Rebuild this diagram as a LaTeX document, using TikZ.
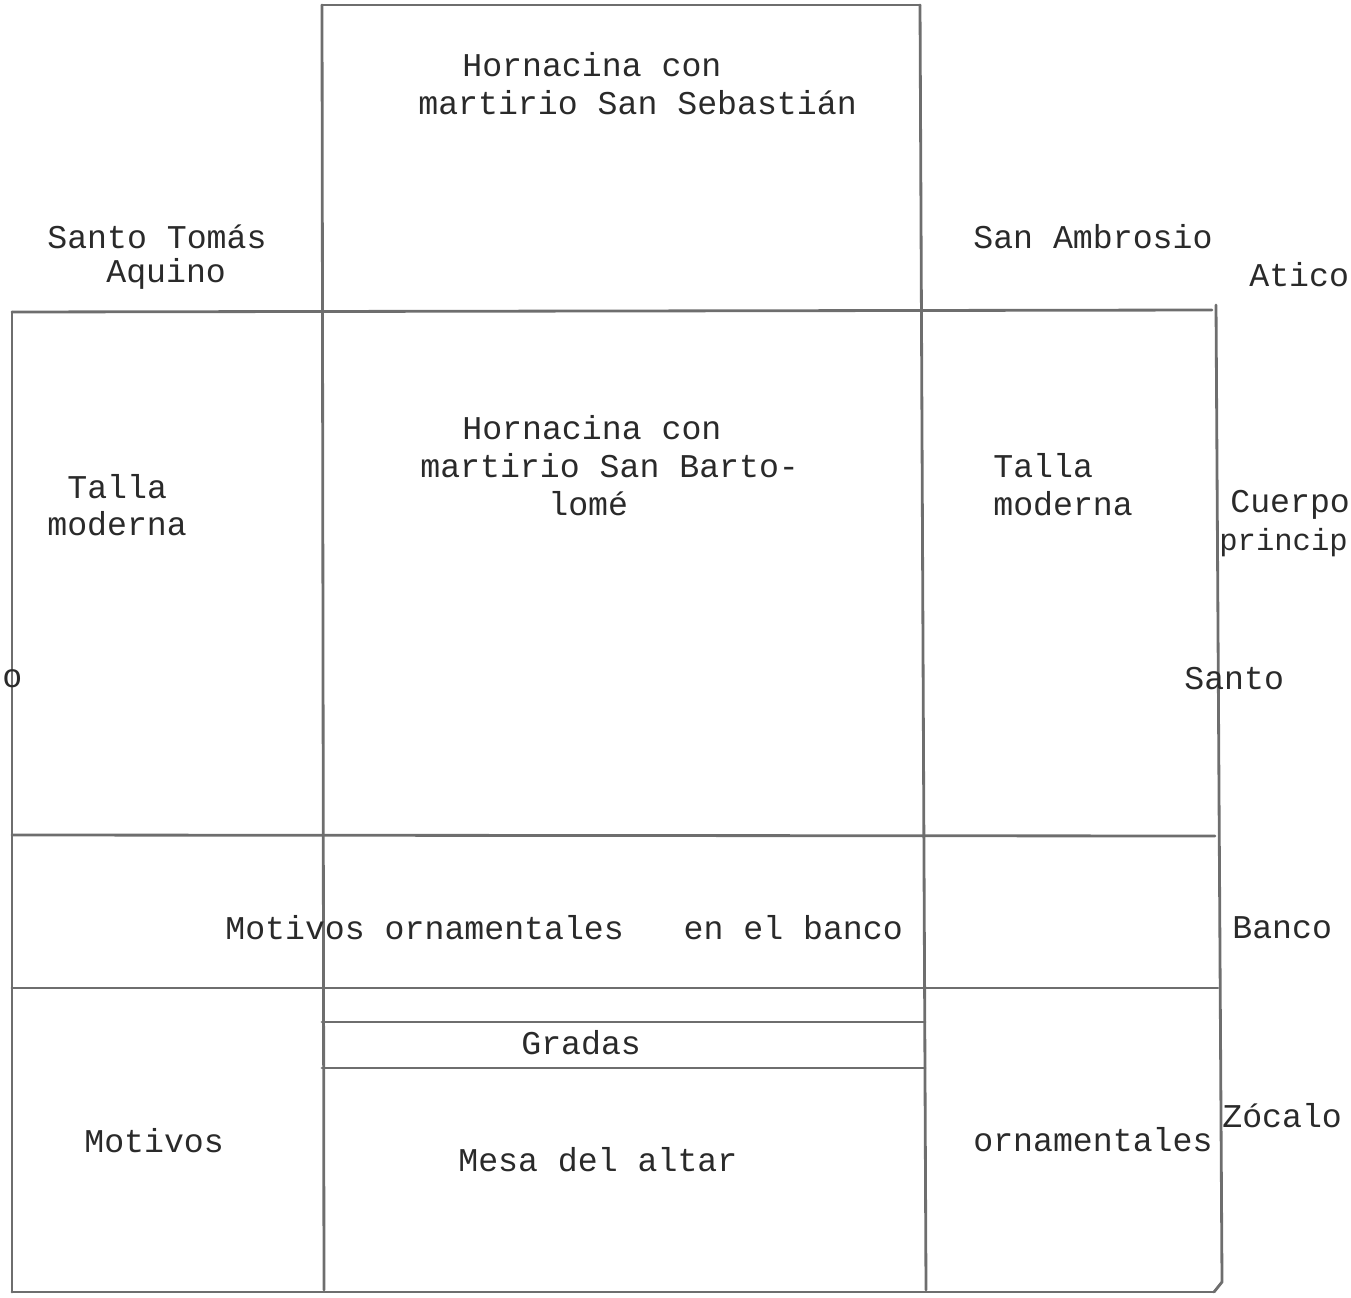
\documentclass[tikz,border=0pt]{standalone}
\usepackage{fontspec}
\setmonofont{Liberation Mono}
\usepackage{tikz}
\usepackage{xcolor}
\usetikzlibrary{positioning}
\definecolor{ink}{HTML}{2A2A2A}
\definecolor{rule}{HTML}{6E6E6E}
\tikzset{
  wall/.style={draw=rule, line width=1.6pt, line cap=round, line join=round},
  typed/.style={anchor=west, inner sep=0pt, text=ink,
                font=\ttfamily\fontsize{18.9}{24}\selectfont}
}

\begin{document}
\begin{tikzpicture}[x=0.02cm,y=-0.02cm]
    \useasboundingbox (0,0) rectangle (1351,1297);

    % frame of the retablo
    \draw[wall] (322,5) -- (920,5);
    \draw[wall] (322,5) -- (324,1290);
    \draw[wall] (920,5) -- (926,1290);
    \draw[wall] (12,312) -- (1212,310);
    \draw[wall] (12,312) -- (12,1292);
    \draw[wall] (1216,305) -- (1222,1282) -- (1214,1292);
    \draw[wall] (12,835) -- (1215,836);
    \draw[wall] (12,988) -- (1218,988);
    \draw[wall] (322,1022) -- (925,1022);
    \draw[wall] (322,1068) -- (925,1068);
    \draw[wall] (12,1292) -- (1214,1292);

    % atico
    \node[typed] (hs1) at (462,65) {Hornacina con};
    \node[typed] (hs2) at (418,103) {martirio San Sebastián};
    \node[typed] (st1) at (47,237) {Santo Tomás};
    \node[typed] (st2) at (106,274) {Aquino};
    \node[typed] (sa) at (973,237) {San Ambrosio};
    \node[typed] (atico) at (1249,275) {Atico};

    % cuerpo principal
    \node[typed] (hb1) at (462,428) {Hornacina con};
    \node[typed] (hb2) at (420,466) {martirio San Barto-};
    \node[typed] (hb3) at (548,504) {lomé};
    \node[typed] (tl1) at (67,487) {Talla};
    \node[typed] (tl2) at (47,524) {moderna};
    \node[typed] (tr1) at (993,466) {Talla};
    \node[typed] (tr2) at (993,504) {moderna};
    \node[typed] (cuerpo1) at (1230,505) {Cuerpo};
    \node[typed,font=\ttfamily\fontsize{17.4}{24}\selectfont] (cuerpo2) at (1219,543) {princip};
    \node[typed] (santo) at (1184,679) {Santo};
    \node[typed] (lado) at (2,679) {o};

    % banco
    \node[typed] (motban) at (225,928) {Motivos ornamentales\ \ \ en el banco};
    \node[typed] (banco) at (1232,928) {Banco};

    % zocalo
    \node[typed] (gradas) at (521,1043) {Gradas};
    \node[typed] (zocalo) at (1222,1116) {Zócalo};
    \node[typed] (motl) at (84,1141) {Motivos};
    \node[typed] (mesa) at (458,1160) {Mesa del altar};
    \node[typed] (orn) at (973,1140) {ornamentales};
\end{tikzpicture}
\end{document}
